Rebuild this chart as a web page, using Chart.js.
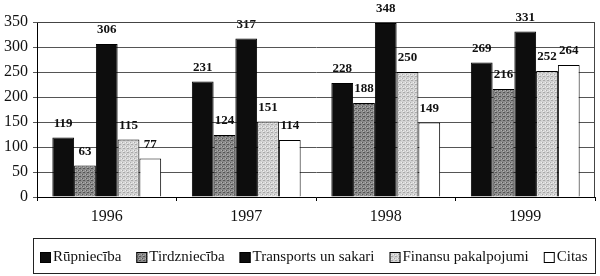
<!DOCTYPE html>
<html>
<head>
<meta charset="utf-8">
<script src="https://cdn.jsdelivr.net/npm/chart.js@4/dist/chart.umd.min.js"></script>
<style>
  html, body { margin: 0; padding: 0; background: #fff; }
  #wrap { width: 600px; height: 276px; position: relative; }
</style>
</head>
<body>
<div id="wrap"><canvas id="c" width="600" height="276"></canvas></div>
<script>
const years = ['1996', '1997', '1998', '1999'];
const seriesNames = ['Rūpniecība', 'Tirdzniecība', 'Transports un sakari', 'Finansu pakalpojumi', 'Citas'];
const rupnieciba = [119, 231, 228, 269];
const tirdznieciba = [63, 124, 188, 216];
const transports = [306, 317, 348, 331];
const finansu = [115, 151, 250, 252];
const citas = [77, 114, 149, 264];
const yTicks = [0, 50, 100, 150, 200, 250, 300, 350];

const FONT = '"Liberation Serif", "Times New Roman", serif';

// speckled fills like the print
function speckle(base, dark, light) {
    const c = document.createElement('canvas');
    c.width = 4; c.height = 4;
    const g = c.getContext('2d');
    g.fillStyle = base; g.fillRect(0, 0, 4, 4);
    g.fillStyle = dark;
    g.fillRect(0, 0, 1, 1); g.fillRect(2, 2, 1, 1); g.fillRect(3, 0, 1, 1);
    g.fillStyle = light;
    g.fillRect(1, 2, 1, 1); g.fillRect(3, 3, 1, 1);
    return g.createPattern(c, 'repeat');
}
const ctx = document.getElementById('c').getContext('2d');
const fills = ['#0d0d0d', speckle('#8a8a8a', '#555', '#b0b0b0'), '#0d0d0d', speckle('#d2d2d2', '#aaa', '#eee'), '#ffffff'];
const values = [rupnieciba, tirdznieciba, transports, finansu, citas];

const valueLabels = {
    id: 'valueLabels',
    afterDatasetsDraw(chart) {
        const c = chart.ctx;
        c.save();
        c.font = 'bold 13px ' + FONT;
        c.fillStyle = '#111';
        c.textAlign = 'center';
        c.textBaseline = 'middle';
        chart.data.datasets.forEach((ds, i) => {
            chart.getDatasetMeta(i).data.forEach((bar, j) => {
                c.fillText(ds.data[j], bar.x, bar.y - 14);
            });
        });
        c.restore();
    }
};

// plot frame + boxed legend under the axis
const frame = {
    id: 'frame',
    afterDraw(chart) {
        const c = chart.ctx, a = chart.chartArea;
        c.save();
        c.strokeStyle = '#444';
        c.lineWidth = 1;
        c.beginPath();
        c.moveTo(a.left, a.top + 0.5);
        c.lineTo(a.right - 0.5, a.top + 0.5);
        c.lineTo(a.right - 0.5, a.bottom);
        c.stroke();

        c.strokeStyle = '#222';
        c.strokeRect(33.5, 238.5, 562, 35);
        c.font = '15px ' + FONT;
        c.textBaseline = 'middle';
        c.textAlign = 'left';
        let x = 40;
        const y = 257;
        chart.data.datasets.forEach(ds => {
            c.fillStyle = ds.backgroundColor;
            c.fillRect(x, y - 5, 11, 11);
            c.strokeStyle = '#000';
            c.strokeRect(x + 0.5, y - 4.5, 10, 10);
            c.fillStyle = '#111';
            c.fillText(ds.label, x + 13, y);
            x += 13 + c.measureText(ds.label).width + 15;
        });
        c.restore();
    }
};

new Chart(ctx, {
    type: 'bar',
    data: {
        labels: years,
        datasets: seriesNames.map((name, i) => ({
            label: name,
            data: values[i],
            backgroundColor: fills[i],
            borderColor: '#000',
            borderWidth: 1,
            categoryPercentage: 0.78,
            barPercentage: 1
        }))
    },
    options: {
        responsive: false,
        animation: false,
        layout: { padding: { left: 0, right: 5, top: 22, bottom: 48 } },
        plugins: {
            tooltip: { enabled: false },
            legend: { display: false }
        },
        scales: {
            x: {
                afterFit(scale) { scale.height = 31; },
                grid: { drawOnChartArea: false, drawTicks: true, tickLength: 4, color: '#000' },
                border: { color: '#000' },
                ticks: { font: { family: FONT, size: 16 }, color: '#111', padding: 6 }
            },
            y: {
                min: 0,
                max: 350,
                afterBuildTicks(scale) { scale.ticks = yTicks.map(v => ({ value: v })); },
                afterFit(scale) { scale.width = 37; },
                grid: { color: '#555', tickLength: 4 },
                border: { color: '#000' },
                ticks: { font: { family: FONT, size: 16 }, color: '#111', padding: 5 }
            }
        }
    },
    plugins: [valueLabels, frame]
});
</script>
</body>
</html>
